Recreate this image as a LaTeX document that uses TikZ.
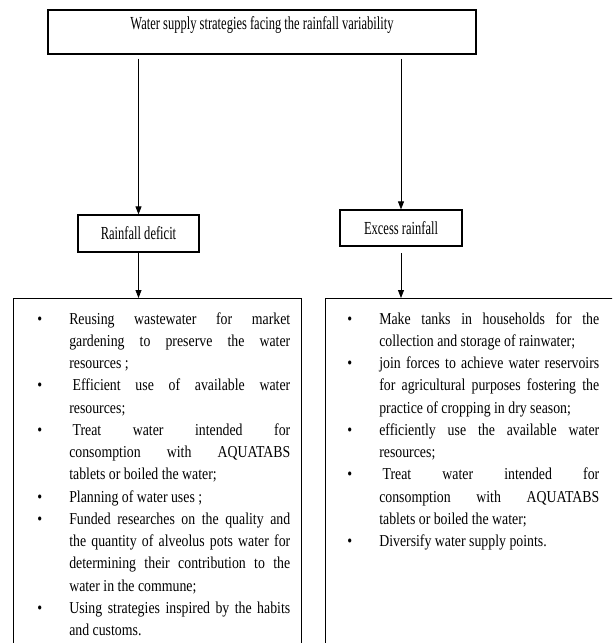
\documentclass[tikz,border=0pt]{standalone}
\usepackage{fontspec}
\setmainfont{Liberation Serif}
\newfontfamily\headfont[FakeStretch=0.68]{Liberation Serif}
\newfontfamily\listfont[FakeStretch=0.83]{Liberation Serif}
\usetikzlibrary{arrows.meta}

% bullet list used in both boxes
\newenvironment{strategylist}{\begin{list}{\textbullet}{%
	\setlength{\leftmargin}{26.25pt}\setlength{\labelwidth}{6pt}%
	\setlength{\labelsep}{20.25pt}\setlength{\itemsep}{0pt}%
	\setlength{\parsep}{0pt}\setlength{\topsep}{0pt}\setlength{\partopsep}{0pt}}}%
	{\end{list}}

\begin{document}
\begin{tikzpicture}[
	x=0.75pt, y=-0.75pt,
	headbox/.style={shape=rectangle, draw, line width=0.9pt, inner sep=0pt, font=\headfont\fontsize{13.8}{14}\selectfont},
	listbox/.style={shape=rectangle, draw, line width=0.9pt, anchor=north west, minimum height=300pt},
	listtext/.style={anchor=base west, inner sep=0pt, font=\listfont\fontsize{12.5}{16.7}\selectfont},
	link/.style={line width=0.6pt, -{Triangle[length=6pt,width=4.5pt]}},
]
\useasboundingbox (0,0) rectangle (612,643);
\clip (0,0) rectangle (612,643);

\node[headbox, minimum width=321pt, minimum height=33pt, align=center] (title) at (262,32) {Water supply strategies facing the rainfall variability\\[-4.5pt] \strut};
\node[headbox, minimum width=90.75pt, minimum height=27.75pt] (deficit) at (138.5,233.5) {Rainfall deficit};
\node[headbox, minimum width=91.5pt, minimum height=27pt] (excess) at (401,228) {Excess rainfall};

\node[listbox, minimum width=216pt] (deficitbox) at (13,298) {};
\node[listbox, minimum width=225pt] (excessbox) at (325,298) {};

\node[listtext] (deficitlist) at (34,324) {\begin{minipage}[t]{192pt}
\begin{strategylist}
\item Reusing wastewater for market\linebreak gardening to preserve the water\linebreak resources ;
\item \hspace{2.5pt}Efficient use of available water\linebreak resources;
\item \hspace{2.5pt}Treat water intended for\linebreak consomption with AQUATABS\linebreak tablets or boiled the water;
\item Planning of water uses ;
\item Funded researches on the quality and\linebreak the quantity of alveolus pots water for\linebreak determining their contribution to the\linebreak water in the commune;
\item Using strategies inspired by the habits\linebreak and customs.
\end{strategylist}
\end{minipage}};

\node[listtext] (excesslist) at (344,324) {\begin{minipage}[t]{191.25pt}
\begin{strategylist}
\item Make tanks in households for the\linebreak collection and storage of rainwater;
\item join forces to achieve water reservoirs\linebreak for agricultural purposes fostering the\linebreak practice of cropping in dry season;
\item efficiently use the available water\linebreak resources;
\item \hspace{2.5pt}Treat water intended for\linebreak consomption with AQUATABS\linebreak tablets or boiled the water;
\item Diversify water supply points.
\end{strategylist}
\end{minipage}};

\draw[link, shorten <=3pt] (title.south -| deficit.north) -- (deficit.north);
\draw[link, shorten <=3pt] (title.south -| excess.north) -- (excess.north);
\draw[link] (deficit.south) -- (deficit.south |- deficitbox.north);
\draw[link, shorten <=5pt] (excess.south) -- (excess.south |- excessbox.north);
\end{tikzpicture}
\end{document}
